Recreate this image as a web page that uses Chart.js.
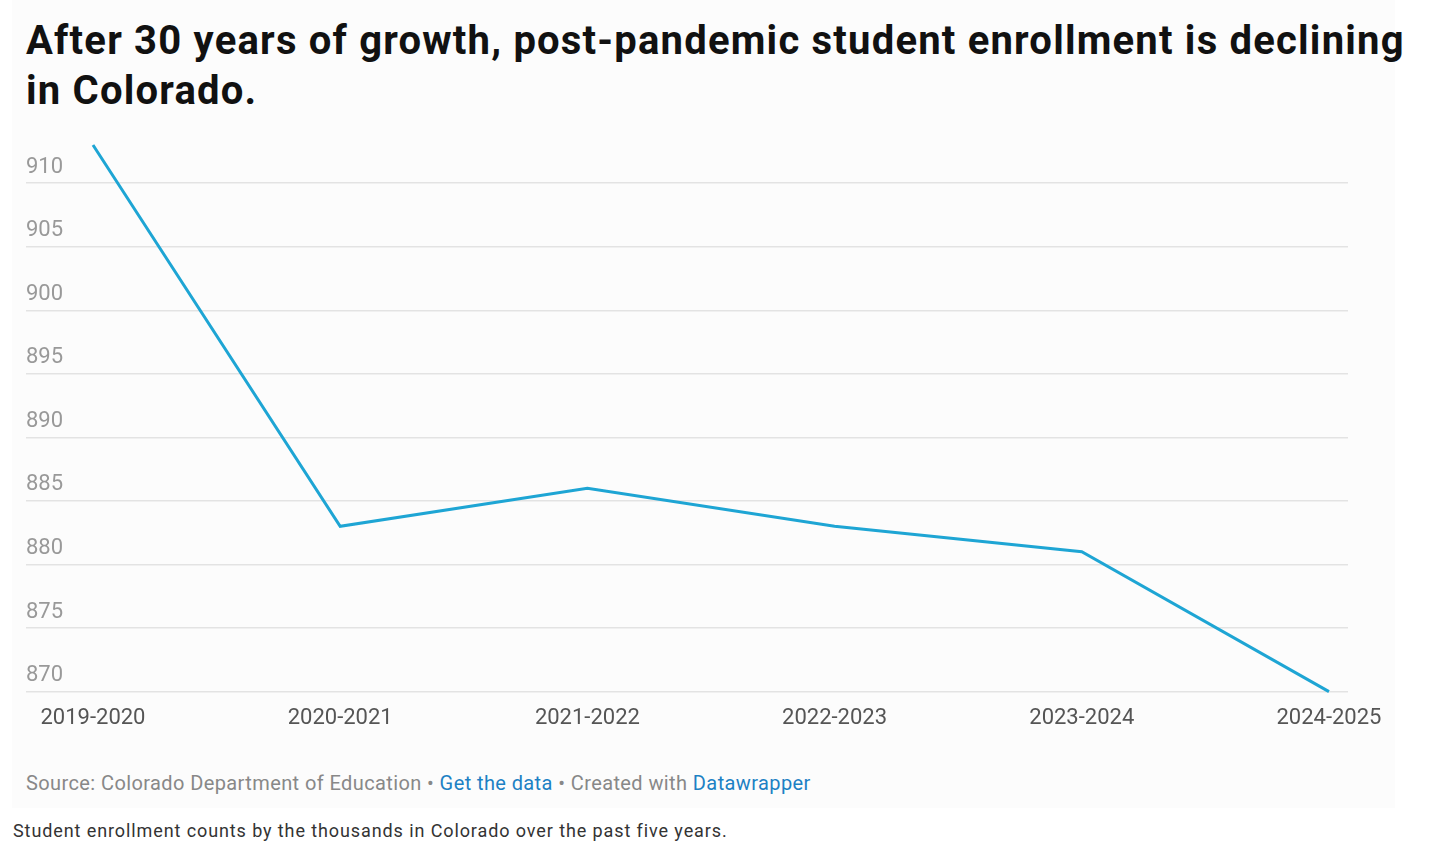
<!DOCTYPE html>
<html><head><meta charset="utf-8">
<script src="https://cdn.jsdelivr.net/npm/chart.js@4"></script>
<style>
body{margin:0;background:#fff;font-family:Roboto,sans-serif;width:1456px;height:855px;position:relative;overflow:hidden}
#panel{position:absolute;left:12px;top:0;width:1383px;height:808px;background:#fcfcfc}
h1{position:absolute;left:26px;top:16px;margin:0;font-size:40px;line-height:50px;font-weight:700;color:#111;letter-spacing:1.2px;white-space:nowrap}
#wrap{position:absolute;left:0;top:130px;width:1456px;height:610px}
#src{position:absolute;left:26px;top:771px;font-size:20px;color:#888;letter-spacing:0.4px}
#src a{color:#1d81c4;text-decoration:none}
#cap{position:absolute;left:13px;top:820px;font-size:18px;color:#333;letter-spacing:0.9px}
</style></head><body>
<div id="panel"></div>
<h1>After 30 years of growth, post-pandemic student enrollment is declining<br>in Colorado.</h1>
<div id="wrap"><canvas id="c"></canvas></div>
<div id="src">Source: Colorado Department of Education • <a>Get the data</a> • Created with <a>Datawrapper</a></div>
<div id="cap">Student enrollment counts by the thousands in Colorado over the past five years.</div>
<script>
var years = ['2019-2020','2020-2021','2021-2022','2022-2023','2023-2024','2024-2025'];
var enrollment = [913.0, 883.0, 886.0, 883.0, 881.0, 870.0];
var yTicks = [870, 875, 880, 885, 890, 895, 900, 905, 910];

var ctx = document.getElementById('c').getContext('2d');
var chart = new Chart(ctx, {
    type: 'line',
    data: {
        datasets: [{
            data: enrollment.map(function (v, i) { return {x: i, y: v}; }),
            borderColor: '#1ea5d4',
            borderWidth: 3,
            pointRadius: 0,
            tension: 0,
            clip: false
        }]
    },
    options: {
        responsive: true,
        maintainAspectRatio: false,
        animation: false,
        layout: {padding: {left: 26, top: 15, right: 108, bottom: 2}},
        plugins: {legend: {display: false}, tooltip: {enabled: false}},
        scales: {
            x: {
                type: 'linear', min: -0.271, max: 5.077,
                afterBuildTicks: function (s) { s.ticks = years.map(function (y, i) { return {value: i}; }); },
                grid: {display: false},
                border: {display: false},
                ticks: {
                    padding: 6, maxRotation: 0, autoSkip: false,
                    color: '#555', font: {family: 'Roboto', size: 22},
                    callback: function (v) { return years[v]; }
                }
            },
            y: {
                min: 870, max: 913,
                afterBuildTicks: function (s) { s.ticks = yTicks.map(function (v) { return {value: v}; }); },
                grid: {color: '#e3e3e3', lineWidth: 1.5, drawTicks: false},
                border: {display: false},
                ticks: {
                    mirror: true, padding: 0, labelOffset: -16,
                    color: '#999', font: {family: 'Roboto', size: 22}
                }
            }
        }
    }
});
</script>
</body></html>
